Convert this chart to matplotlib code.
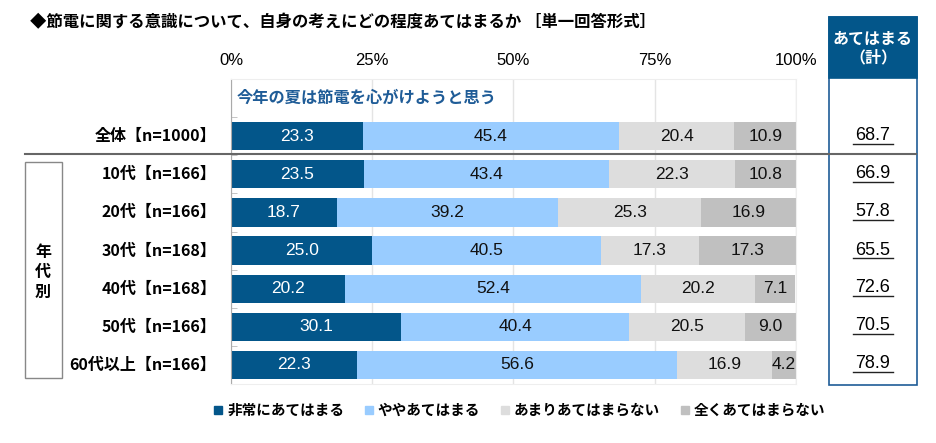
import matplotlib.pyplot as plt
from matplotlib.lines import Line2D
from matplotlib.patches import Rectangle
import numpy as np

plt.rcParams['font.family'] = ['Noto Sans CJK JP', 'DejaVu Sans']
NUM_FONT = ['Liberation Sans', 'DejaVu Sans']

title = "◆節電に関する意識について、自身の考えにどの程度あてはまるか ［単一回答形式］"
question = "今年の夏は節電を心がけようと思う"
rows = ["全体【n=1000】", "10代【n=166】", "20代【n=166】", "30代【n=168】",
        "40代【n=168】", "50代【n=166】", "60代以上【n=166】"]
series = ["非常にあてはまる", "ややあてはまる", "あまりあてはまらない", "全くあてはまらない"]
very = [23.3, 23.5, 18.7, 25.0, 20.2, 30.1, 22.3]
somewhat = [45.4, 43.4, 39.2, 40.5, 52.4, 40.4, 56.6]
not_much = [20.4, 22.3, 25.3, 17.3, 20.2, 20.5, 16.9]
not_at_all = [10.9, 10.8, 16.9, 17.3, 7.1, 9.0, 4.2]
totals = [68.7, 66.9, 57.8, 65.5, 72.6, 70.5, 78.9]
ticks = [0, 25, 50, 75, 100]
colors = ["#03568A", "#99CCFF", "#DDDDDD", "#C0C0C0"]
text_colors = ["white", "#111111", "#111111", "#111111"]

W, H = 937, 443
fig = plt.figure(figsize=(W / 100, H / 100), dpi=100)


def fx(x):
    return x / W


def fy(y):
    return 1 - y / H


ax = fig.add_axes([fx(231), fy(384), fx(796) - fx(231), fy(79) - fy(384)])
ypos = np.arange(1, len(rows) + 1)
data = [very, somewhat, not_much, not_at_all]
left = np.zeros(len(rows))
for vals, c, tc in zip(data, colors, text_colors):
    vals = np.array(vals)
    ax.barh(ypos, vals, left=left, height=0.74, color=c, zorder=2)
    for y, l, v in zip(ypos, left, vals):
        ax.text(l + v / 2, y, f"{v:.1f}", ha="center", va="center",
                color=tc, fontsize=12.5, family=NUM_FONT, zorder=3)
    left += vals

ax.set_xlim(0, 100)
ax.set_ylim(len(rows) + 0.5, -0.5)
ax.set_xticks(ticks)
ax.set_xticklabels([f"{t}%" for t in ticks], fontsize=12, family=NUM_FONT)
ax.xaxis.tick_top()
ax.tick_params(axis="x", length=0, pad=8)
ax.set_yticks([])
ax.set_yticks(np.arange(0.5, len(rows) + 0.5), minor=True)
ax.tick_params(axis="y", which="minor", direction="in", length=4, color="#bbbbbb")
ax.grid(axis="x", color="#e4e4e4", linewidth=1, zorder=0)
for s in ax.spines.values():
    s.set_color("#eeeeee")
ax.spines["left"].set_color("#aaaaaa")

ax.text(1, 0, question, ha="left", va="center", color="#1F5C97",
        fontsize=11.7, fontweight="bold")

for y, lab in zip(ypos, rows):
    ax.text(-2.6, y, lab, ha="right", va="center", fontsize=11.5, fontweight="bold")

fig.text(fx(30), fy(22), title, ha="left", va="center", fontsize=11.8, fontweight="bold")

# separator line under 全体
fig.add_artist(Line2D([fx(25), fx(916)], [fy(154), fy(154)], color="#666666", lw=1.5))

# 年代別 box
fig.add_artist(Rectangle((fx(25), fy(378)), fx(62) - fx(25), fy(162) - fy(378),
                         fill=False, edgecolor="#888888", lw=1))
fig.text(fx(43), fy(272), "年\n代\n別", ha="center", va="center", fontsize=11.5,
         fontweight="bold", linespacing=1.3)

# totals column
fig.add_artist(Rectangle((fx(829), fy(385)), fx(917) - fx(829), fy(17) - fy(385),
                         fill=False, edgecolor="#1F5C97", lw=1.2))
fig.add_artist(Rectangle((fx(829), fy(78)), fx(917) - fx(829), fy(17) - fy(78),
                         facecolor="#03568A", edgecolor="#03568A", lw=1.2))
fig.text(fx(873), fy(48), "あてはまる\n（計）", ha="center", va="center", color="white",
         fontsize=11.5, fontweight="bold", linespacing=1.15)
for i, t in enumerate(totals):
    yc = 136 + 38 * i
    fig.text(fx(873), fy(yc), f"{t:.1f}", ha="center", va="center", fontsize=13,
             family=NUM_FONT)
    fig.add_artist(Line2D([fx(853), fx(893)], [fy(yc + 8), fy(yc + 8)], color="#222222", lw=1))

# legend
handles = [Line2D([], [], marker="s", linestyle="none", markersize=6, color=c) for c in colors]
fig.legend(handles, series, loc="center", bbox_to_anchor=(fx(518), fy(410)), ncol=4,
           frameon=False, prop={"weight": "bold", "size": 10.5},
           handletextpad=0.1, columnspacing=1.2, handlelength=1)

fig.savefig("out.png", dpi=100)
